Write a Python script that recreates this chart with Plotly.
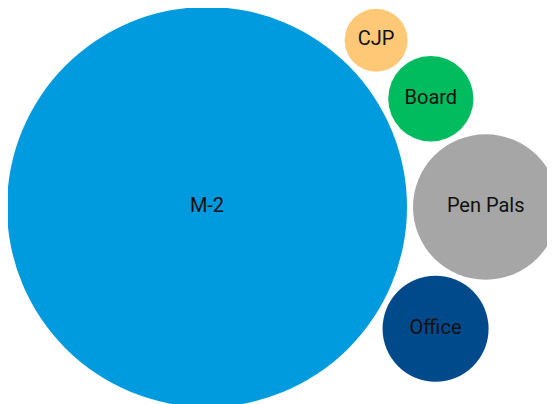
import math
import plotly.graph_objects as go

# ---- data ----
labels = ["M-2", "Pen Pals", "Office", "Board", "CJP"]
values = [242, 32, 17, 11, 6]

# ---- style ----
colors = ["#009ADE", "#A6A6A6", "#004A8C", "#00BC5E", "#FFC877"]
R_MAX = 200.0      # px radius of the largest bubble
PAD = 6.0          # gap between bubbles

radii = [R_MAX * math.sqrt(v / max(values)) for v in values]


def tangent(a, ra, b, rb, rc, side):
    """Position of a circle of radius rc touching circles a and b."""
    da = ra + rc + PAD
    db = rb + rc + PAD
    dx, dy = b[0] - a[0], b[1] - a[1]
    d = math.hypot(dx, dy)
    ux, uy = dx / d, dy / d
    nx, ny = -uy, ux
    along = (d * d + da * da - db * db) / (2 * d)
    perp = math.sqrt(max(0.0, da * da - along * along))
    return (a[0] + along * ux + side * perp * nx,
            a[1] + along * uy + side * perp * ny)


# packing: largest at origin, second to its right, the rest tangent to the
# largest circle and an earlier neighbour
pos = [None] * len(values)
pos[0] = (0.0, 0.0)
pos[1] = (radii[0] + radii[1] + PAD, 0.0)
pos[2] = tangent(pos[0], radii[0], pos[1], radii[1], radii[2], -1)
pos[3] = tangent(pos[0], radii[0], pos[1], radii[1], radii[3], +1)
pos[4] = tangent(pos[0], radii[0], pos[3], radii[3], radii[4], +1)

xs = [p[0] for p in pos]
ys = [p[1] for p in pos]

# the page body has an 8px margin
OFF = 8
W, H = 555, 404 - OFF
fig = go.Figure(go.Scatter(
    x=xs, y=ys, text=labels,
    mode="markers+text",
    textposition="middle center",
    textfont=dict(family="Roboto", size=20, color="#111111"),
    marker=dict(size=[2 * r for r in radii], sizemode="diameter",
                color=colors, opacity=1, line=dict(width=0)),
    hoverinfo="text",
))

left = -207 + OFF
top = 207 - OFF
fig.update_layout(
    width=W, height=H,
    margin=dict(l=0, r=0, t=0, b=0),
    paper_bgcolor="white", plot_bgcolor="white",
    showlegend=False,
    xaxis=dict(range=[left, left + W], visible=False, fixedrange=True),
    yaxis=dict(range=[top - H, top], visible=False, fixedrange=True),
)

fig.write_html("out.html")
